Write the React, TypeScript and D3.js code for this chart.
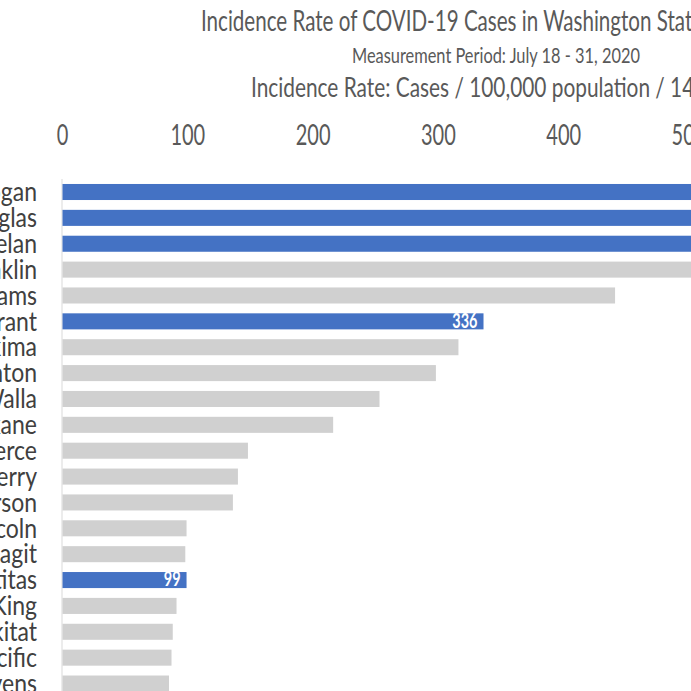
import React from 'react'
import * as d3 from 'd3'

// counties visible in the crop, top to bottom
const counties = [
  'Okanogan', 'Douglas', 'Chelan', 'Franklin', 'Adams', 'Grant', 'Yakima', 'Benton',
  'Walla Walla', 'Spokane', 'Pierce', 'Ferry', 'Jefferson', 'Lincoln', 'Skagit',
  'Kittitas', 'King', 'Klickitat', 'Pacific', 'Stevens',
]
// cases / 100,000 / 14 days (top four run past the right edge)
const rates = [640, 610, 580, 540, 441, 336, 316, 298, 253, 216, 148, 140, 136, 99, 98, 99, 91, 88, 87, 85]
const highlighted = ['Okanogan', 'Douglas', 'Chelan', 'Grant', 'Kittitas']
const xTicks = [0, 100, 200, 300, 400, 500, 600]

const titleLines = [
  'Incidence Rate of COVID-19 Cases in Washington State by County',
  'Measurement Period: July 18 - 31, 2020',
  'Incidence Rate: Cases / 100,000 population / 14 days',
]

interface Row {
  county: string
  rate: number
}

const rows: Row[] = counties.map((c, i) => ({ county: c, rate: rates[i] }))

export default function App() {
  const width = 691
  const height = 691
  // the source image was stretched vertically, so draw in a squat box and stretch it
  const stretch = 1.4
  const vbHeight = height / stretch

  const xScale = d3.scaleLinear().domain([0, 500]).range([62.5, 689])

  const step = 25.87 / stretch
  const top = 192 / stretch - step / 2
  const yScale = d3.scaleBand<string>()
    .domain(counties)
    .range([top, top + step * counties.length])
    .paddingInner(0.38)
    .paddingOuter(0.19)

  const font = 'Lato, "Open Sans", sans-serif'

  return (
    <svg
      width={width}
      height={height}
      viewBox={`0 0 ${width} ${vbHeight}`}
      preserveAspectRatio="none"
      style={{ position: 'absolute', left: 0, top: 0, display: 'block', background: '#fff' }}
    >
      {/* titles */}
      <text x={501} y={22.2} textAnchor="middle" fontFamily={font} fontSize={20}
        fill="#595959" textLength={600} lengthAdjust="spacingAndGlyphs">{titleLines[0]}</text>
      <text x={496} y={44.8} textAnchor="middle" fontFamily={font} fontSize={15}
        fill="#595959" textLength={288} lengthAdjust="spacingAndGlyphs">{titleLines[1]}</text>
      <text x={496} y={69.2} textAnchor="middle" fontFamily={font} fontSize={19}
        fill="#595959" textLength={490} lengthAdjust="spacingAndGlyphs">{titleLines[2]}</text>

      {/* x ticks along the top */}
      {xTicks.map(t => (
        <text key={t} x={xScale(t)} y={103.4} textAnchor="middle" fontFamily={font}
          fontSize={20} fill="#595959">{t}</text>
      ))}

      {/* axis line */}
      <line x1={xScale(0) - 0.5} x2={xScale(0) - 0.5} y1={yScale.range()[0]} y2={vbHeight}
        stroke="#d9d9d9" strokeWidth={1} />

      {rows.map(r => {
        const y = yScale(r.county) as number
        const bh = yScale.bandwidth()
        const hi = highlighted.includes(r.county)
        return (
          <g key={r.county}>
            <text transform={`translate(37, ${y + bh / 2 + 6.6}) scale(1.15, 0.93)`} textAnchor="end"
              fontFamily={font} fontSize={20} fill="#404040">{r.county}</text>
            <rect x={xScale(0)} y={y} width={xScale(r.rate) - xScale(0)} height={bh}
              fill={hi ? '#4472C4' : '#D0D0D0'} />
            {hi && (
              <text x={xScale(r.rate) - 6} y={y + bh / 2 + 4.6} textAnchor="end"
                fontFamily={font} fontSize={14.5} fontWeight={700} fill="#ffffff">{r.rate}</text>
            )}
          </g>
        )
      })}
    </svg>
  )
}
